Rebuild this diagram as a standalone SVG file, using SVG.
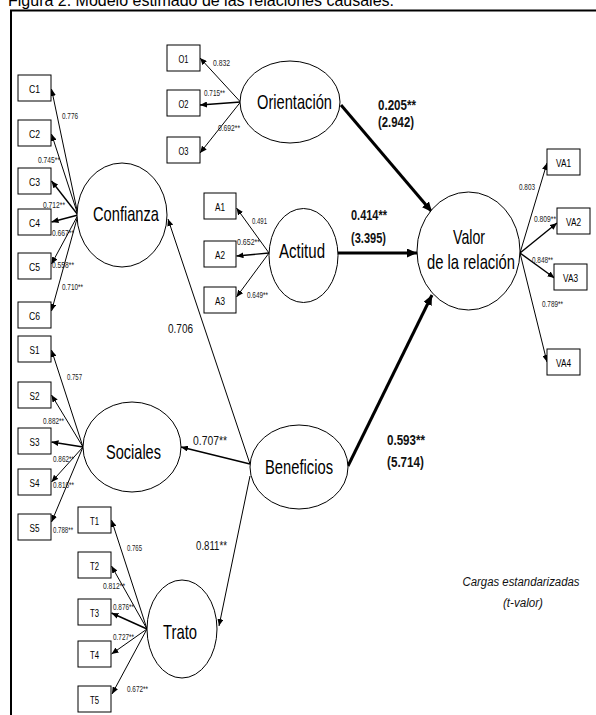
<svg xmlns="http://www.w3.org/2000/svg" width="596" height="715" viewBox="0 0 596 715">
  <style>
    .bg { fill: #ffffff; }
    .frame { fill: none; stroke: #000; stroke-width: 2; }
    .lat { fill: #fff; stroke: #000; stroke-width: 1; }
    .box { fill: #fff; stroke: #000; stroke-width: 1; }
    .title { font-family: "Liberation Sans", Arial, sans-serif; font-size: 16px; fill: #000; }
    .big { font-family: "Liberation Sans", Arial, sans-serif; font-size: 21px; fill: #000; }
    .ind { font-family: "Liberation Sans", Arial, sans-serif; font-size: 11px; fill: #000; text-anchor: middle; }
    .ld { font-family: "Liberation Sans", Arial, sans-serif; font-size: 8.5px; fill: #222; }
    .coef { font-family: "Liberation Sans", Arial, sans-serif; font-size: 13px; fill: #111; }
    .path { font-family: "Liberation Sans", Arial, sans-serif; font-size: 14.5px; font-weight: bold; fill: #111; }
    .note { font-family: "Liberation Sans", Arial, sans-serif; font-size: 12px; font-style: italic; fill: #111; text-anchor: middle; }
    .thin { fill: none; stroke: #000; stroke-width: 1; marker-end: url(#ah); }
    .mid { fill: none; stroke: #000; stroke-width: 1.4; marker-end: url(#ah); }
    .thick { fill: none; stroke: #000; stroke-width: 3; marker-end: url(#ahb); }
  </style>
  <defs>
    <marker id="ah" markerUnits="userSpaceOnUse" markerWidth="7" markerHeight="6" refX="7" refY="3" orient="auto">
      <path d="M0,0 L7,3 L0,6 z" fill="#000"/>
    </marker>
    <marker id="ahb" markerUnits="userSpaceOnUse" markerWidth="10" markerHeight="9" refX="10" refY="4.5" orient="auto">
      <path d="M0,0 L10,4.5 L0,9 z" fill="#000"/>
    </marker>
  </defs>

  <rect class="bg" x="0" y="0" width="596" height="715"/>

  <!-- caption and frame -->
  <text class="title" x="8" y="6">Figura 2. Modelo estimado de las relaciones causales.</text>
  <path class="frame" d="M11,715 V10.5 H596"/>

  <!-- connectors -->
  <g id="connectors">
    <!-- Confianza loadings -->
    <line class="thin" x1="78" y1="215" x2="51.5" y2="89"/>
    <line class="thin" x1="78" y1="215" x2="51.5" y2="134"/>
    <line class="mid" x1="78" y1="215" x2="51.5" y2="181"/>
    <line class="mid" x1="78" y1="215" x2="51.5" y2="222"/>
    <line class="thin" x1="78" y1="215" x2="51.5" y2="264"/>
    <line class="thin" x1="78" y1="215" x2="51.5" y2="311"/>
    <!-- Sociales loadings -->
    <line class="thin" x1="83" y1="447" x2="51.5" y2="350"/>
    <line class="thin" x1="83" y1="447" x2="51.5" y2="395"/>
    <line class="mid" x1="83" y1="447" x2="51.5" y2="442"/>
    <line class="thin" x1="83" y1="447" x2="51.5" y2="482"/>
    <line class="thin" x1="83" y1="447" x2="51.5" y2="522"/>
    <!-- Trato loadings -->
    <line class="thin" x1="147" y1="629" x2="111.5" y2="520"/>
    <line class="thin" x1="147" y1="629" x2="111.5" y2="566"/>
    <line class="mid" x1="147" y1="629" x2="111.5" y2="613"/>
    <line class="thin" x1="147" y1="629" x2="111.5" y2="654"/>
    <line class="thin" x1="147" y1="629" x2="112" y2="694"/>
    <!-- Orientacion loadings -->
    <line class="thin" x1="240.5" y1="102" x2="200" y2="58"/>
    <line class="mid" x1="240.5" y1="102" x2="200" y2="105"/>
    <line class="thin" x1="240.5" y1="102" x2="200" y2="153"/>
    <!-- Actitud loadings -->
    <line class="thin" x1="269" y1="253" x2="236.5" y2="208"/>
    <line class="mid" x1="269" y1="253" x2="236.5" y2="256"/>
    <line class="thin" x1="269" y1="253" x2="236.5" y2="297"/>
    <!-- Valor loadings -->
    <line class="thin" x1="520" y1="253" x2="547" y2="163"/>
    <line class="mid" x1="520" y1="253" x2="557" y2="223"/>
    <line class="mid" x1="520" y1="253" x2="554.5" y2="278"/>
    <line class="thin" x1="520" y1="253" x2="547" y2="362"/>
    <!-- structural paths -->
    <line class="thick" x1="341" y1="105" x2="432" y2="212"/>
    <line class="thick" x1="338" y1="253" x2="417" y2="253"/>
    <line class="thick" x1="348" y1="466" x2="432" y2="295"/>
    <line class="thin" x1="250" y1="464" x2="168" y2="219"/>
    <line class="mid" x1="250" y1="464" x2="181" y2="447"/>
    <line class="thin" x1="250" y1="476" x2="219" y2="626"/>
  </g>

  <!-- latent constructs -->
  <g id="orientacion">
    <ellipse class="lat" cx="290" cy="102" rx="50" ry="41"/>
    <text class="big" x="257" y="109" textLength="75" lengthAdjust="spacingAndGlyphs">Orientación</text>
  </g>
  <g id="confianza">
    <ellipse class="lat" cx="122" cy="215" rx="45" ry="52"/>
    <text class="big" x="93" y="221" textLength="66" lengthAdjust="spacingAndGlyphs">Confianza</text>
  </g>
  <g id="actitud">
    <ellipse class="lat" cx="303.5" cy="255.5" rx="34.5" ry="47"/>
    <text class="big" x="279" y="258" textLength="46" lengthAdjust="spacingAndGlyphs">Actitud</text>
  </g>
  <g id="valor">
    <ellipse class="lat" cx="468.5" cy="251" rx="51.5" ry="59"/>
    <text class="big" x="453" y="244" textLength="32" lengthAdjust="spacingAndGlyphs">Valor</text>
    <text class="big" x="427" y="269" textLength="88" lengthAdjust="spacingAndGlyphs">de la relación</text>
  </g>
  <g id="sociales">
    <ellipse class="lat" cx="132" cy="447" rx="49" ry="45"/>
    <text class="big" x="106" y="459" textLength="55" lengthAdjust="spacingAndGlyphs">Sociales</text>
  </g>
  <g id="beneficios">
    <ellipse class="lat" cx="299" cy="467" rx="49" ry="42"/>
    <text class="big" x="265" y="474" textLength="68" lengthAdjust="spacingAndGlyphs">Beneficios</text>
  </g>
  <g id="trato">
    <ellipse class="lat" cx="182" cy="629" rx="35" ry="49"/>
    <text class="big" x="163" y="639" textLength="34" lengthAdjust="spacingAndGlyphs">Trato</text>
  </g>

  <!-- indicators -->
  <g id="C1"><rect class="box" x="18" y="75" width="33" height="26"/><text class="ind" x="34.5" y="93" textLength="11" lengthAdjust="spacingAndGlyphs">C1</text></g>
  <g id="C2"><rect class="box" x="18" y="120" width="33" height="26"/><text class="ind" x="34.5" y="138" textLength="11" lengthAdjust="spacingAndGlyphs">C2</text></g>
  <g id="C3"><rect class="box" x="18" y="168" width="33" height="26"/><text class="ind" x="34.5" y="186" textLength="11" lengthAdjust="spacingAndGlyphs">C3</text></g>
  <g id="C4"><rect class="box" x="18" y="209" width="33" height="26"/><text class="ind" x="34.5" y="227" textLength="11" lengthAdjust="spacingAndGlyphs">C4</text></g>
  <g id="C5"><rect class="box" x="18" y="253" width="33" height="26"/><text class="ind" x="34.5" y="271" textLength="11" lengthAdjust="spacingAndGlyphs">C5</text></g>
  <g id="C6"><rect class="box" x="18" y="302" width="33" height="26"/><text class="ind" x="34.5" y="320" textLength="11" lengthAdjust="spacingAndGlyphs">C6</text></g>
  <g id="S1"><rect class="box" x="18" y="336" width="33" height="26"/><text class="ind" x="34.5" y="354" textLength="10" lengthAdjust="spacingAndGlyphs">S1</text></g>
  <g id="S2"><rect class="box" x="18" y="382" width="33" height="26"/><text class="ind" x="34.5" y="400" textLength="10" lengthAdjust="spacingAndGlyphs">S2</text></g>
  <g id="S3"><rect class="box" x="18" y="428" width="33" height="26"/><text class="ind" x="34.5" y="446" textLength="10" lengthAdjust="spacingAndGlyphs">S3</text></g>
  <g id="S4"><rect class="box" x="18" y="469" width="33" height="26"/><text class="ind" x="34.5" y="487" textLength="10" lengthAdjust="spacingAndGlyphs">S4</text></g>
  <g id="S5"><rect class="box" x="18" y="514" width="33" height="26"/><text class="ind" x="34.5" y="532" textLength="10" lengthAdjust="spacingAndGlyphs">S5</text></g>
  <g id="T1"><rect class="box" x="78" y="507" width="33" height="26"/><text class="ind" x="94.5" y="525" textLength="9" lengthAdjust="spacingAndGlyphs">T1</text></g>
  <g id="T2"><rect class="box" x="78" y="552" width="33" height="26"/><text class="ind" x="94.5" y="570" textLength="9" lengthAdjust="spacingAndGlyphs">T2</text></g>
  <g id="T3"><rect class="box" x="78" y="599" width="33" height="26"/><text class="ind" x="94.5" y="617" textLength="9" lengthAdjust="spacingAndGlyphs">T3</text></g>
  <g id="T4"><rect class="box" x="78" y="641" width="33" height="26"/><text class="ind" x="94.5" y="659" textLength="9" lengthAdjust="spacingAndGlyphs">T4</text></g>
  <g id="T5"><rect class="box" x="78" y="686" width="33" height="26"/><text class="ind" x="94.5" y="704" textLength="9" lengthAdjust="spacingAndGlyphs">T5</text></g>
  <g id="O1"><rect class="box" x="167" y="45" width="33" height="26"/><text class="ind" x="183.5" y="63" textLength="10" lengthAdjust="spacingAndGlyphs">O1</text></g>
  <g id="O2"><rect class="box" x="167" y="90" width="33" height="26"/><text class="ind" x="183.5" y="108" textLength="10" lengthAdjust="spacingAndGlyphs">O2</text></g>
  <g id="O3"><rect class="box" x="167" y="137" width="33" height="26"/><text class="ind" x="183.5" y="155" textLength="10" lengthAdjust="spacingAndGlyphs">O3</text></g>
  <g id="A1"><rect class="box" x="204" y="193" width="32" height="26"/><text class="ind" x="220" y="211" textLength="10" lengthAdjust="spacingAndGlyphs">A1</text></g>
  <g id="A2"><rect class="box" x="204" y="241" width="32" height="26"/><text class="ind" x="220" y="259" textLength="10" lengthAdjust="spacingAndGlyphs">A2</text></g>
  <g id="A3"><rect class="box" x="204" y="287" width="32" height="26"/><text class="ind" x="220" y="305" textLength="10" lengthAdjust="spacingAndGlyphs">A3</text></g>
  <g id="VA1"><rect class="box" x="547" y="149" width="33" height="26"/><text class="ind" x="563.5" y="167" textLength="15" lengthAdjust="spacingAndGlyphs">VA1</text></g>
  <g id="VA2"><rect class="box" x="557" y="208" width="33" height="26"/><text class="ind" x="573.5" y="226" textLength="15" lengthAdjust="spacingAndGlyphs">VA2</text></g>
  <g id="VA3"><rect class="box" x="554" y="264" width="33" height="26"/><text class="ind" x="570.5" y="282" textLength="15" lengthAdjust="spacingAndGlyphs">VA3</text></g>
  <g id="VA4"><rect class="box" x="547" y="349" width="33" height="26"/><text class="ind" x="563.5" y="367" textLength="15" lengthAdjust="spacingAndGlyphs">VA4</text></g>

  <!-- loading values -->
  <g id="loadings">
    <text class="ld" x="62" y="119" textLength="16" lengthAdjust="spacingAndGlyphs">0.776</text>
    <text class="ld" x="38" y="163" textLength="22" lengthAdjust="spacingAndGlyphs">0.745**</text>
    <text class="ld" x="43" y="208" textLength="22" lengthAdjust="spacingAndGlyphs">0.712**</text>
    <text class="ld" x="52" y="236" textLength="22" lengthAdjust="spacingAndGlyphs">0.667**</text>
    <text class="ld" x="52" y="268" textLength="22" lengthAdjust="spacingAndGlyphs">0.558**</text>
    <text class="ld" x="62" y="290" textLength="21" lengthAdjust="spacingAndGlyphs">0.710**</text>
    <text class="ld" x="67" y="380" textLength="15" lengthAdjust="spacingAndGlyphs">0.757</text>
    <text class="ld" x="43" y="424" textLength="21" lengthAdjust="spacingAndGlyphs">0.882**</text>
    <text class="ld" x="53" y="462" textLength="21" lengthAdjust="spacingAndGlyphs">0.862**</text>
    <text class="ld" x="53" y="488" textLength="21" lengthAdjust="spacingAndGlyphs">0.816**</text>
    <text class="ld" x="53" y="533" textLength="20" lengthAdjust="spacingAndGlyphs">0.788**</text>
    <text class="ld" x="127" y="551" textLength="15" lengthAdjust="spacingAndGlyphs">0.765</text>
    <text class="ld" x="103" y="589" textLength="22" lengthAdjust="spacingAndGlyphs">0.812**</text>
    <text class="ld" x="113" y="610" textLength="21" lengthAdjust="spacingAndGlyphs">0.876**</text>
    <text class="ld" x="113" y="640" textLength="21" lengthAdjust="spacingAndGlyphs">0.727**</text>
    <text class="ld" x="127" y="692" textLength="21" lengthAdjust="spacingAndGlyphs">0.672**</text>
    <text class="ld" x="213" y="66" textLength="17" lengthAdjust="spacingAndGlyphs">0.832</text>
    <text class="ld" x="204" y="96" textLength="21" lengthAdjust="spacingAndGlyphs">0.715**</text>
    <text class="ld" x="218" y="131" textLength="22" lengthAdjust="spacingAndGlyphs">0.692**</text>
    <text class="ld" x="252" y="224" textLength="15" lengthAdjust="spacingAndGlyphs">0.491</text>
    <text class="ld" x="237" y="245" textLength="23" lengthAdjust="spacingAndGlyphs">0.652**</text>
    <text class="ld" x="247" y="298" textLength="21" lengthAdjust="spacingAndGlyphs">0.649**</text>
    <text class="ld" x="519" y="190" textLength="16" lengthAdjust="spacingAndGlyphs">0.803</text>
    <text class="ld" x="534" y="222" textLength="22" lengthAdjust="spacingAndGlyphs">0.809**</text>
    <text class="ld" x="532" y="263" textLength="21" lengthAdjust="spacingAndGlyphs">0.848**</text>
    <text class="ld" x="542" y="307" textLength="21" lengthAdjust="spacingAndGlyphs">0.789**</text>
  </g>

  <!-- structural coefficients -->
  <g id="coefficients">
    <text class="coef" x="168" y="333" textLength="25" lengthAdjust="spacingAndGlyphs">0.706</text>
    <text class="coef" x="193" y="445" textLength="34" lengthAdjust="spacingAndGlyphs">0.707**</text>
    <text class="coef" x="196" y="550" textLength="31" lengthAdjust="spacingAndGlyphs">0.811**</text>
    <text class="path" x="378" y="110" textLength="38" lengthAdjust="spacingAndGlyphs">0.205**</text>
    <text class="path" x="378" y="127" textLength="36" lengthAdjust="spacingAndGlyphs">(2.942)</text>
    <text class="path" x="351" y="220" textLength="36" lengthAdjust="spacingAndGlyphs">0.414**</text>
    <text class="path" x="351" y="243" textLength="35" lengthAdjust="spacingAndGlyphs">(3.395)</text>
    <text class="path" x="387" y="445" textLength="38" lengthAdjust="spacingAndGlyphs">0.593**</text>
    <text class="path" x="387" y="467" textLength="37" lengthAdjust="spacingAndGlyphs">(5.714)</text>
  </g>

  <!-- legend -->
  <g id="legend">
    <text class="note" x="521" y="586" textLength="117" lengthAdjust="spacingAndGlyphs">Cargas estandarizadas</text>
    <text class="note" x="523" y="607" textLength="40" lengthAdjust="spacingAndGlyphs">(t-valor)</text>
  </g>
</svg>
